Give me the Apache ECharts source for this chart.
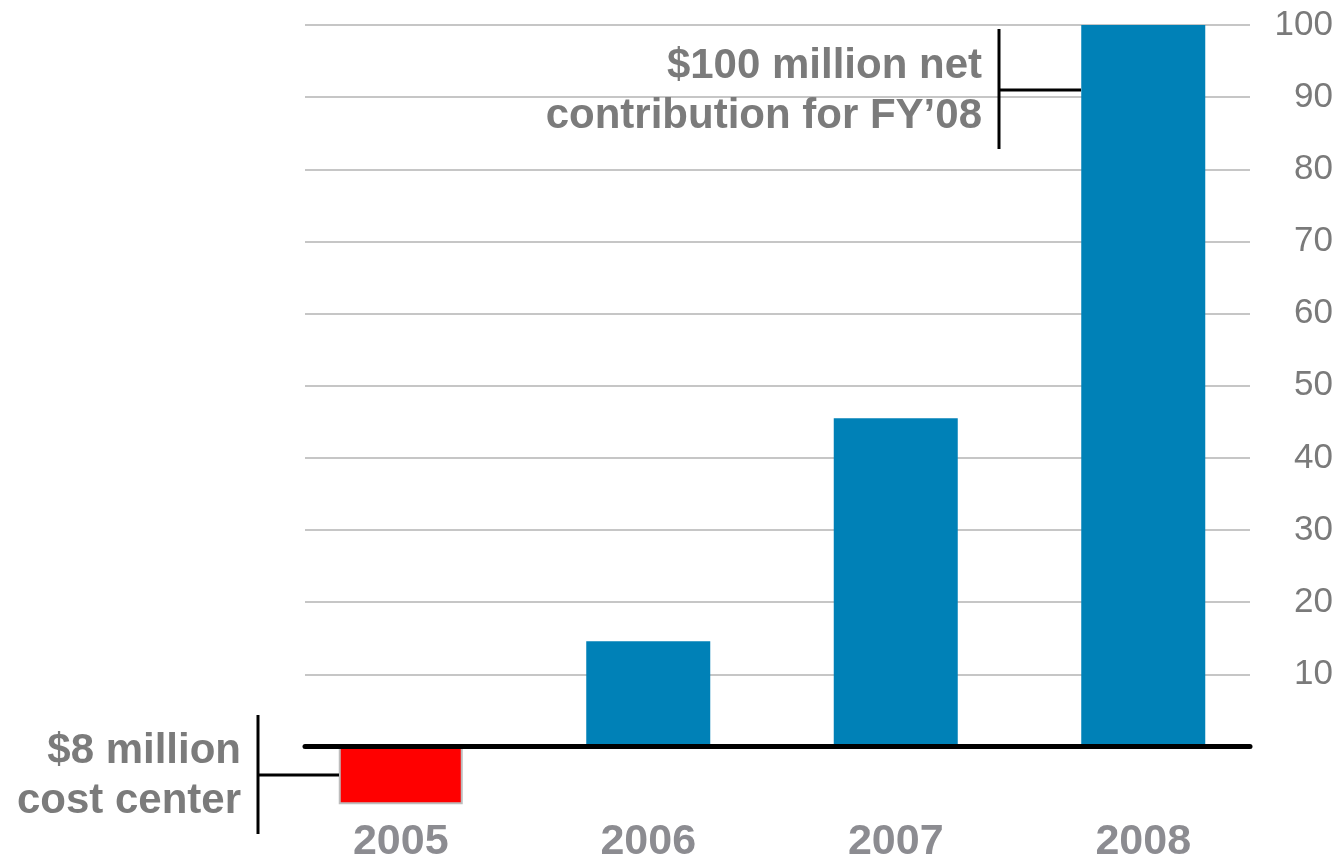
<!DOCTYPE html>
<html>
<head>
<meta charset="utf-8">
<script src="https://cdn.jsdelivr.net/npm/echarts@6/dist/echarts.min.js"></script>
<style>
  html, body { margin: 0; padding: 0; background: #fff; }
  #chart { width: 1343px; height: 858px; }
</style>
</head>
<body>
<div id="chart"></div>
<script>
// Net contribution by fiscal year, $ millions
const categories = ['2005', '2006', '2007', '2008'];
const netValues = [-8, 14.6, 45.5, 100];
const axisMin = 0;
const axisMax = 100;
const axisStep = 10;

// Annotation texts and the values their brackets point at
const costNote = '$8 million\ncost center';
const costNoteValue = netValues[0] / 2;
const profitNote = '$100 million net\ncontribution for FY\u201908';
const profitNoteValue = 91;

const FONT = '"Liberation Sans", Arial, Helvetica, sans-serif';
const BAR_W = 124;

const chart = echarts.init(document.getElementById('chart'), null, { renderer: 'canvas' });

const option = {
  animation: false,
  backgroundColor: '#ffffff',
  grid: [
    // gridlines, right-hand scale and the zero line
    { left: 305, right: 93, top: 25, height: 721.5, outerBoundsMode: 'none', containLabel: false },
    // bars and year labels (scale extended below zero)
    { left: 277, width: 990, top: 25, height: 793.65, outerBoundsMode: 'none', containLabel: false }
  ],
  xAxis: [
    {
      gridIndex: 0, type: 'category', data: categories,
      axisLine: { show: true, lineStyle: { color: '#000', width: 5 } },
      axisTick: { show: false }, axisLabel: { show: false }, z: 5
    },
    {
      gridIndex: 1, type: 'category', data: categories,
      axisLine: { show: false }, axisTick: { show: false },
      axisLabel: {
        margin: 2,
        fontFamily: FONT, fontWeight: 'bold', fontSize: 43, color: '#8c8c91'
      }
    }
  ],
  yAxis: [
    {
      gridIndex: 0, type: 'value', position: 'right',
      min: axisMin, max: axisMax, interval: axisStep,
      axisLine: { show: false }, axisTick: { show: false },
      splitLine: { show: true, lineStyle: { color: '#c6c6c6', width: 2 } },
      axisLabel: {
        margin: 83, align: 'right',
        fontFamily: FONT, fontSize: 35, color: '#7a7a7a',
        formatter: v => (v > 0 ? String(v) : '')
      }
    },
    {
      gridIndex: 1, type: 'value',
      min: -axisStep, max: axisMax, interval: axisStep,
      show: false, splitLine: { show: false }
    }
  ],
  series: [
    {
      type: 'bar', xAxisIndex: 1, yAxisIndex: 1,
      barWidth: BAR_W,
      data: netValues.map(v => ({
        value: v,
        itemStyle: v < 0
          ? { color: '#ff0000', borderColor: '#bdbdbd', borderWidth: 2 }
          : { color: '#0081b7' }
      }))
    }
  ]
};

chart.setOption(option);

// Bracket callouts tied to the bars they describe
function callout(catIndex, value, text, opts) {
  const p = chart.convertToPixel({ xAxisIndex: 1, yAxisIndex: 1 }, [categories[catIndex], value]);
  const barLeft = Math.round(p[0] - BAR_W / 2);
  const y = Math.round(p[1]);
  const vx = barLeft - opts.reach;
  const line = { stroke: '#000', lineWidth: 3 };
  return [
    { type: 'line', shape: { x1: vx, y1: y - opts.up, x2: vx, y2: y + opts.down }, style: line, z: 10 },
    { type: 'line', shape: { x1: vx, y1: y, x2: barLeft, y2: y }, style: line, z: 10 },
    {
      type: 'text', x: vx - 17, y: y + opts.textShift, z: 10,
      style: {
        text: text, fill: '#7b7b7b',
        fontFamily: FONT, fontWeight: 'bold', fontSize: 42, lineHeight: 50,
        align: 'right', verticalAlign: 'middle'
      }
    }
  ];
}

chart.setOption({
  graphic: [
    ...callout(0, costNoteValue, costNote, { reach: 81, up: 60, down: 59, textShift: 1 }),
    ...callout(3, profitNoteValue, profitNote, { reach: 82, up: 61, down: 59, textShift: 1 })
  ]
});
</script>
</body>
</html>
